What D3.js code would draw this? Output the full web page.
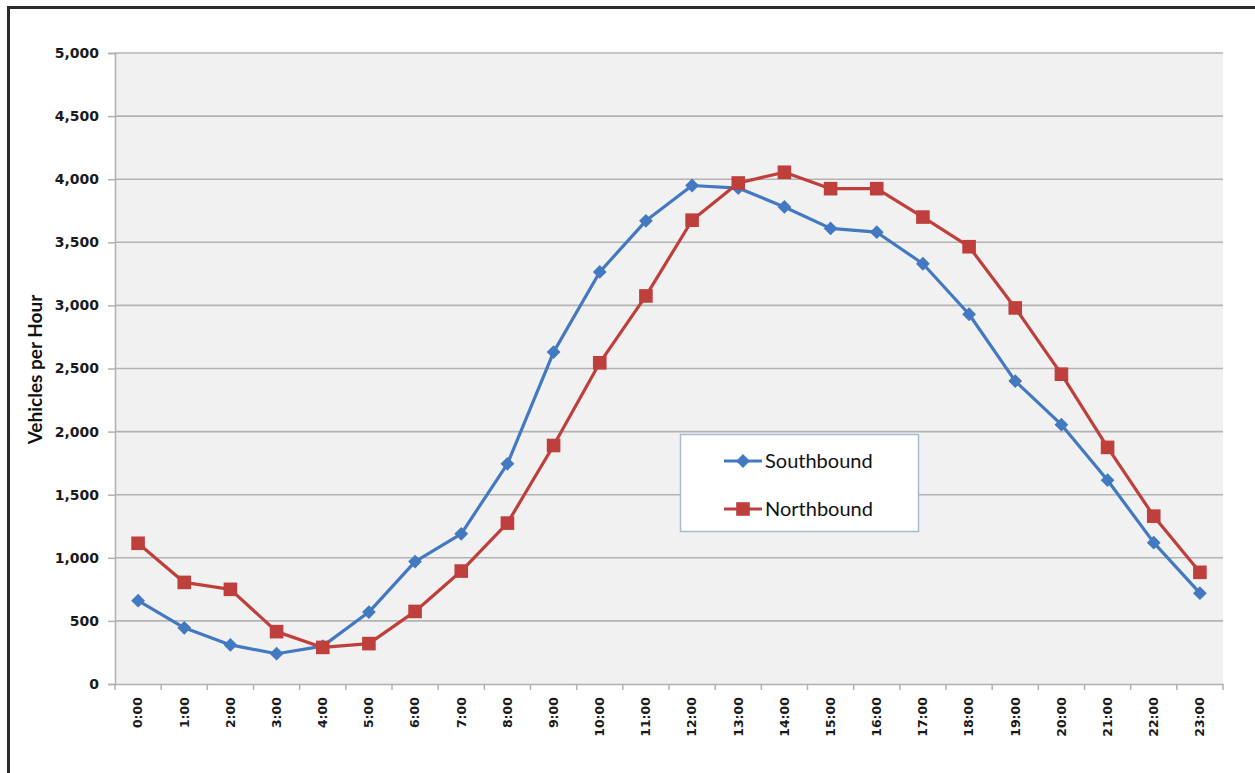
<!DOCTYPE html>
<html>
<head>
<meta charset="utf-8">
<script src="https://cdn.jsdelivr.net/npm/d3@7"></script>
<style>
  html, body { margin: 0; padding: 0; background: #ffffff; }
  svg { display: block; }
</style>
</head>
<body>
<svg id="chart" width="1255" height="773"></svg>
<script>
const hours = ["0:00","1:00","2:00","3:00","4:00","5:00","6:00","7:00","8:00","9:00","10:00","11:00",
               "12:00","13:00","14:00","15:00","16:00","17:00","18:00","19:00","20:00","21:00","22:00","23:00"];
const southbound = [660,445,310,240,300,570,970,1190,1745,2630,3265,3670,
                    3950,3930,3780,3610,3580,3330,2930,2400,2055,1615,1120,720];
const northbound = [1115,805,750,415,290,320,575,895,1275,1890,2545,3075,
                    3675,3970,4055,3925,3925,3700,3465,2980,2455,1875,1330,885];
const yTicks = [0,500,1000,1500,2000,2500,3000,3500,4000,4500,5000];
const seriesNames = ["Southbound","Northbound"];
const seriesColors = ["#4379c0","#bf3f3c"];
const yTitle = "Vehicles per Hour";

const svg = d3.select("#chart");
const W = 1255, H = 773;
const plot = {left: 115, top: 53, right: 1223, bottom: 684};

// frame
svg.append("line").attr("x1", 8.5).attr("x2", 8.5).attr("y1", 6).attr("y2", H)
   .attr("stroke", "#2a2a2a").attr("stroke-width", 3);
svg.append("line").attr("x1", 7).attr("x2", W).attr("y1", 7.5).attr("y2", 7.5)
   .attr("stroke", "#2a2a2a").attr("stroke-width", 3);

const x = d3.scaleBand().domain(hours).range([plot.left, plot.right]).padding(0);
const y = d3.scaleLinear().domain([0, 5000]).range([plot.bottom, plot.top]);

// plot background
svg.append("rect").attr("x", plot.left).attr("y", plot.top)
   .attr("width", plot.right - plot.left).attr("height", plot.bottom - plot.top)
   .attr("fill", "#f1f1f1");

// gridlines
svg.append("g").selectAll("line").data(yTicks.filter(d => d > 0)).join("line")
   .attr("x1", plot.left).attr("x2", plot.right)
   .attr("y1", d => y(d)).attr("y2", d => y(d))
   .attr("stroke", "#b3b3b3").attr("stroke-width", 1.6);

// y axis
const yAxis = d3.axisLeft(y).tickValues(yTicks).tickSize(7).tickPadding(9)
   .tickFormat(d3.format(","));
const gy = svg.append("g").attr("transform", `translate(${plot.left},0)`).call(yAxis);
gy.select(".domain").attr("stroke", "#b0b0b0").attr("stroke-width", 1.5);
gy.selectAll(".tick line").attr("stroke", "#b0b0b0").attr("stroke-width", 1.5);
gy.selectAll(".tick text").attr("font-family", "DejaVu Sans").attr("font-weight", "bold")
   .attr("font-size", 14).attr("fill", "#1a1a1a");

// x axis
const xAxis = d3.axisBottom(x).tickSize(0).tickPadding(0);
const gx = svg.append("g").attr("transform", `translate(0,${plot.bottom})`).call(xAxis);
gx.select(".domain").attr("stroke", "#b0b0b0").attr("stroke-width", 1.5);
gx.selectAll(".tick text")
   .attr("font-family", "DejaVu Sans").attr("font-weight", "bold").attr("font-size", 12.5)
   .attr("fill", "#1a1a1a")
   .attr("text-anchor", "end").attr("dy", "0.35em").attr("y", 0)
   .attr("transform", "translate(0,13) rotate(-90)");
// x boundary ticks
const bounds = hours.map(h => x(h)).concat([plot.right]);
svg.append("g").selectAll("line").data(bounds).join("line")
   .attr("x1", d => d).attr("x2", d => d)
   .attr("y1", plot.bottom).attr("y2", plot.bottom + 6)
   .attr("stroke", "#b0b0b0").attr("stroke-width", 1.5);

// y title
svg.append("text")
   .attr("transform", `translate(42,${(plot.top + plot.bottom) / 2 + 1}) rotate(-90)`)
   .attr("text-anchor", "middle")
   .attr("font-family", "Lato").attr("font-weight", "bold").attr("font-size", 19)
   .attr("fill", "#111").text(yTitle);

// series
const cx = d => x(d) + x.bandwidth() / 2;
const series = [southbound, northbound];
const line = d3.line().x((d, i) => cx(hours[i])).y(d => y(d));
const diamond = d3.symbol().type(d3.symbolSquare).size(95);
const square = d3.symbol().type(d3.symbolSquare).size(185);

series.forEach((vals, si) => {
  svg.append("path").datum(vals).attr("d", line)
     .attr("fill", "none").attr("stroke", seriesColors[si]).attr("stroke-width", 3.2)
     .attr("stroke-linejoin", "round");
  svg.append("g").selectAll("path").data(vals).join("path")
     .attr("d", si === 0 ? diamond : square)
     .attr("transform", (d, i) => `translate(${cx(hours[i])},${y(d)})` + (si === 0 ? " rotate(45)" : ""))
     .attr("fill", seriesColors[si]);
});

// legend
const lg = svg.append("g");
lg.append("rect").attr("x", 680.5).attr("y", 434.5).attr("width", 238).attr("height", 97)
  .attr("fill", "#ffffff").attr("stroke", "#a7bad1").attr("stroke-width", 1.5);
seriesNames.forEach((name, i) => {
  const ly = 461 + i * 48;
  lg.append("line").attr("x1", 724).attr("x2", 762).attr("y1", ly).attr("y2", ly)
    .attr("stroke", seriesColors[i]).attr("stroke-width", 3.2);
  lg.append("path").attr("d", i === 0 ? diamond : square)
    .attr("transform", `translate(743,${ly})` + (i === 0 ? " rotate(45)" : ""))
    .attr("fill", seriesColors[i]);
  lg.append("text").attr("x", 765).attr("y", ly).attr("dy", "0.35em")
    .attr("font-family", "Lato").attr("font-size", 20).attr("fill", "#111").text(name);
});
</script>
</body>
</html>
